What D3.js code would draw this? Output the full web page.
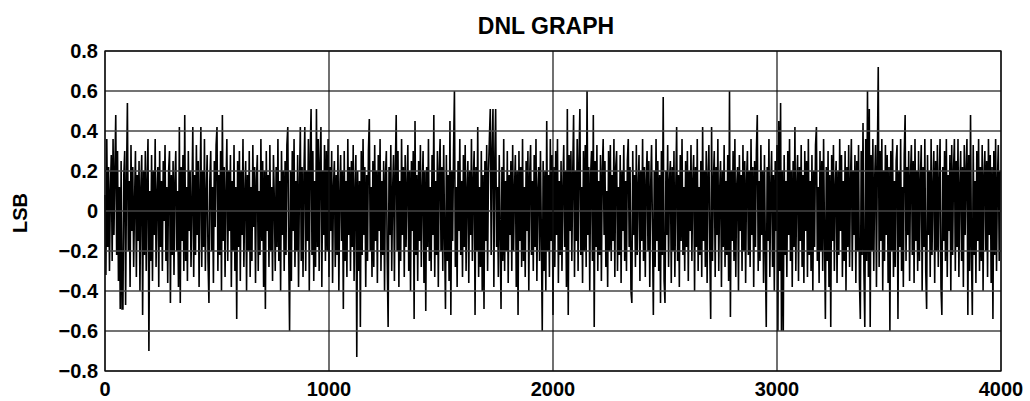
<!DOCTYPE html>
<html>
<head>
<meta charset="utf-8">
<script src="https://cdn.jsdelivr.net/npm/d3@7"></script>
<style>
  body { margin: 0; background: #fff; }
  text { font-family: "Liberation Sans", Arial, sans-serif; font-weight: bold; fill: #000; }
</style>
</head>
<body>
<div id="chart"></div>
<script>
// Chart text and ticks
const title = "DNL GRAPH";
const yLabel = "LSB";
const xTicks = [0, 1000, 2000, 3000, 4000];
const yTicks = [-0.8, -0.6, -0.4, -0.2, 0, 0.2, 0.4, 0.6, 0.8];

// DNL, one value every 4 codes starting at code 0
const codeStep = 4;
const dnl = [
  0.08,-0.32,0.36,-0.18,0.22,-0.3,0.1,0.28,-0.25,0.36,-0.12,0.2,0.48,-0.22,0.3,-0.35,0.12,-0.49,0.25,-0.49,-0.49,0.18,0.3,-0.47,0.15,
  0.54,-0.2,0.15,-0.38,0.33,-0.1,0.22,-0.28,0.05,0.3,-0.33,0.18,-0.15,0.25,-0.4,0.12,0.28,-0.52,0.2,-0.22,0.3,-0.3,0.15,0.36,-0.7,
  0.1,-0.25,0.28,-0.35,0.2,-0.12,0.36,-0.28,0.08,0.22,-0.38,0.3,-0.18,0.15,-0.3,0.25,-0.05,0.33,-0.25,0.12,-0.36,0.2,0.3,-0.46,0.18,
  -0.22,0.25,-0.32,0.15,0.3,-0.2,0.1,-0.38,0.42,-0.46,0.22,-0.15,0.28,-0.3,0.48,-0.25,0.12,-0.35,0.3,-0.1,0.2,-0.28,0.05,0.42,-0.33,
  0.18,-0.22,0.33,-0.12,0.25,-0.38,0.1,0.42,-0.28,0.2,-0.18,0.36,-0.3,0.08,0.28,-0.25,-0.46,0.15,0.3,-0.2,0.12,-0.36,0.25,-0.08,0.33,
  0.42,-0.3,0.18,-0.22,0.3,-0.4,0.48,-0.15,0.22,-0.33,0.1,0.36,-0.25,0.2,-0.1,0.28,-0.38,0.15,-0.2,0.33,-0.3,0.12,-0.54,0.25,-0.18,
  0.3,-0.35,0.2,-0.12,0.36,-0.28,0.08,0.25,-0.4,0.18,-0.2,0.3,-0.33,0.12,-0.25,0.33,-0.08,0.22,-0.36,0.15,0.28,-0.3,0.1,-0.22,0.36,
  -0.15,0.25,-0.38,0.2,-0.49,0.3,-0.1,0.18,-0.28,0.33,-0.2,0.12,-0.35,0.28,0.05,-0.3,0.22,-0.18,0.36,-0.25,0.15,-0.4,0.3,-0.12,0.2,
  -0.3,0.25,-0.22,0.33,0.42,-0.18,-0.6,0.2,-0.35,0.3,-0.1,0.36,-0.28,0.15,-0.2,0.28,-0.38,0.12,0.42,-0.25,0.22,-0.33,0.18,0.42,-0.3,
  0.2,-0.15,0.36,-0.4,0.28,0.51,-0.22,0.3,-0.35,0.15,-0.28,0.51,-0.18,0.36,-0.3,0.25,0.42,-0.38,0.2,-0.12,0.33,-0.25,0.3,-0.2,0.36,
  -0.33,0.22,-0.1,0.3,-0.36,0.12,0.25,-0.28,0.18,-0.22,0.33,-0.4,0.08,0.28,-0.15,0.2,-0.49,0.3,-0.25,0.15,-0.33,0.36,-0.12,0.22,-0.3,
  0.25,-0.18,0.33,-0.35,0.1,0.28,-0.73,0.2,-0.3,0.15,-0.58,0.3,-0.22,0.36,-0.12,0.22,-0.38,0.18,-0.25,0.3,0.46,-0.2,0.12,-0.33,0.25,
  -0.28,0.33,-0.15,0.2,-0.36,0.28,-0.1,0.36,-0.3,0.15,-0.22,0.25,-0.4,0.18,0.3,-0.25,-0.58,0.22,-0.12,0.33,-0.3,0.1,0.28,-0.35,0.2,
  0.48,-0.2,0.3,-0.38,0.15,-0.25,0.36,-0.12,0.22,-0.33,0.28,-0.18,0.12,0.33,-0.3,0.2,-0.4,0.25,-0.1,0.3,-0.54,0.45,-0.22,0.18,-0.35,
  0.25,-0.15,0.33,-0.28,0.1,0.3,-0.36,0.2,-0.5,0.22,-0.18,0.36,-0.25,0.12,-0.3,0.28,-0.12,0.48,-0.33,0.15,-0.22,0.3,-0.38,0.2,0.36,
  -0.2,0.22,-0.3,0.33,-0.12,-0.49,0.28,-0.25,0.18,-0.35,0.45,-0.52,0.2,-0.15,0.3,0.6,-0.28,0.12,-0.38,0.25,-0.1,0.36,-0.22,0.15,-0.33,
  0.28,-0.18,0.33,-0.3,0.1,0.25,-0.36,0.2,-0.12,0.36,-0.25,0.15,0.3,-0.52,0.22,-0.2,0.42,-0.33,0.12,-0.28,0.3,-0.4,0.18,-0.49,0.25,
  -0.15,0.33,-0.3,0.2,0.36,0.51,-0.22,0.3,0.51,-0.38,0.25,0.51,-0.18,0.12,-0.33,0.28,-0.1,-0.49,0.22,-0.25,0.36,-0.3,0.15,-0.2,0.3,
  -0.36,0.18,-0.12,0.25,-0.3,0.33,-0.2,0.1,0.28,-0.38,0.2,-0.52,0.3,-0.15,0.22,-0.28,0.36,-0.25,0.12,-0.33,0.25,-0.1,0.3,-0.4,0.18,
  0.33,-0.22,0.15,-0.3,0.28,-0.18,0.36,-0.35,0.1,0.22,-0.25,0.3,-0.12,-0.6,0.25,-0.3,0.2,-0.4,0.45,-0.2,0.18,-0.33,0.36,-0.15,0.28,
  -0.52,0.22,-0.28,0.3,-0.12,0.36,-0.36,0.15,-0.22,0.25,-0.3,0.12,0.33,-0.18,0.2,-0.38,0.51,-0.52,0.28,-0.1,0.3,-0.25,0.18,0.48,-0.33,
  0.2,-0.15,0.36,-0.3,0.25,0.51,-0.22,0.12,-0.36,0.3,-0.2,0.33,-0.28,0.6,-0.12,0.22,-0.4,0.18,0.3,-0.25,0.48,-0.58,0.25,-0.18,0.33,
  -0.3,0.15,-0.22,0.28,-0.35,0.2,0.36,-0.12,0.25,-0.28,0.1,-0.38,0.3,-0.2,0.33,-0.25,0.18,-0.15,0.36,-0.33,0.22,0.3,-0.3,0.12,-0.22,
  0.28,-0.36,0.2,-0.1,0.33,-0.25,0.15,-0.3,0.25,0.36,-0.18,0.22,-0.4,-0.46,0.3,-0.12,0.18,-0.28,0.33,-0.22,0.12,0.28,-0.35,0.2,-0.15,
  0.36,-0.25,0.22,-0.33,0.15,0.3,-0.2,0.25,-0.38,0.12,0.33,-0.1,-0.52,0.2,-0.28,0.36,-0.15,0.25,-0.3,0.18,-0.46,0.3,-0.22,0.57,-0.35,
  -0.46,0.2,-0.12,0.33,-0.28,0.15,0.25,-0.36,0.22,-0.2,0.3,-0.33,0.1,0.42,-0.25,0.18,-0.38,0.28,-0.15,0.36,-0.22,0.12,-0.3,0.25,-0.18,
  0.3,-0.35,0.2,-0.1,0.33,-0.25,0.15,0.28,-0.4,0.22,-0.18,0.36,-0.3,0.12,-0.22,0.25,-0.33,0.42,-0.15,0.2,-0.28,0.3,-0.36,0.18,0.33,
  -0.2,-0.54,0.42,-0.25,0.15,0.3,-0.33,0.22,-0.12,0.36,-0.3,0.1,0.25,-0.38,0.2,-0.18,0.33,-0.28,0.15,-0.22,0.28,-0.35,0.6,-0.53,0.2,
  -0.15,0.3,-0.25,0.36,-0.33,0.12,0.22,-0.4,0.28,-0.1,0.18,-0.3,0.33,-0.2,0.25,-0.36,0.15,0.3,-0.22,0.2,-0.28,0.36,-0.12,0.22,-0.38,
  0.25,-0.18,0.3,0.48,-0.3,0.15,-0.25,0.33,-0.12,0.2,-0.36,0.28,-0.2,-0.58,0.22,-0.15,0.36,-0.33,0.12,0.3,-0.28,0.18,-0.4,0.25,-0.1,
  0.33,-0.6,0.45,-0.3,0.54,-0.6,0.2,-0.6,0.28,-0.22,0.15,-0.33,0.3,-0.12,0.36,-0.25,0.2,-0.38,0.25,-0.18,0.42,-0.3,0.12,0.28,-0.35,
  0.22,-0.15,0.33,-0.28,0.18,-0.36,0.3,-0.1,0.25,-0.33,0.36,-0.22,0.15,-0.3,0.28,-0.4,0.2,-0.18,0.33,0.42,-0.25,0.12,-0.36,0.3,-0.2,
  0.25,-0.3,0.36,-0.12,-0.54,0.22,-0.25,0.3,-0.38,0.18,-0.58,0.28,-0.15,0.33,-0.3,0.12,0.25,-0.36,0.2,-0.22,0.36,-0.1,0.28,-0.33,0.15,
  -0.25,0.3,-0.4,0.22,-0.18,0.33,-0.28,0.15,0.36,-0.3,0.2,-0.12,0.28,-0.36,0.25,-0.2,0.33,-0.35,-0.54,0.3,-0.22,0.44,-0.3,-0.58,0.36,
  -0.25,0.6,-0.33,0.51,-0.58,0.28,-0.2,0.36,-0.3,0.15,0.33,-0.38,0.25,0.72,-0.28,0.3,-0.15,0.36,-0.4,0.2,-0.25,0.33,-0.12,0.28,-0.36,
  0.22,-0.6,0.3,-0.2,0.36,-0.33,0.15,-0.28,0.25,0.33,-0.54,0.2,-0.18,0.36,-0.3,0.12,-0.38,0.28,0.48,-0.25,0.22,-0.12,0.3,-0.35,0.18,
  0.33,-0.22,0.25,-0.36,0.36,-0.15,0.2,-0.3,0.3,-0.25,0.15,0.33,-0.4,0.22,-0.18,0.36,-0.3,-0.49,0.28,-0.12,0.2,-0.33,0.36,-0.22,0.12,
  0.3,-0.36,0.25,-0.2,0.33,-0.28,0.15,0.36,-0.38,-0.52,0.22,-0.15,0.3,-0.25,0.36,-0.33,0.18,-0.1,0.28,-0.4,0.33,-0.22,0.2,0.36,-0.3,
  0.25,-0.18,0.36,-0.33,0.12,0.3,-0.25,0.22,-0.38,0.33,-0.12,0.2,0.36,-0.52,0.28,-0.3,0.48,-0.2,-0.52,0.33,-0.22,0.15,-0.36,0.3,-0.15,
  0.36,-0.3,0.22,-0.25,0.33,-0.4,0.18,0.3,-0.2,0.25,-0.33,0.36,-0.12,0.28,-0.36,0.22,-0.54,0.3,-0.22,0.36,-0.3,0.15,0.33,-0.25,0.2
];

// Layout of the picture
const width = 1030;
const height = 401;
const margin = { top: 51, right: 29, bottom: 30, left: 105 };
const plotW = width - margin.left - margin.right;
const plotH = height - margin.top - margin.bottom;

const x = d3.scaleLinear().domain([0, 4000]).range([0, plotW]);
const y = d3.scaleLinear().domain([-0.8, 0.8]).range([plotH, 0]);

const svg = d3.select("#chart")
  .append("svg")
  .attr("width", width)
  .attr("height", height);

const g = svg.append("g")
  .attr("transform", `translate(${margin.left}, ${margin.top})`);

// The DNL trace
const line = d3.line()
  .x((d, i) => x(i * codeStep))
  .y(d => y(d));

g.append("path")
  .datum(dnl)
  .attr("d", line)
  .attr("fill", "none")
  .attr("stroke", "#000")
  .attr("stroke-width", 1.6);

// Grid lines sit on top of the trace
g.selectAll(".hgrid")
  .data(yTicks)
  .enter()
  .append("line")
  .attr("x1", 0)
  .attr("x2", plotW)
  .attr("y1", d => y(d))
  .attr("y2", d => y(d))
  .attr("stroke", "#444")
  .attr("stroke-width", 1.3);

g.selectAll(".vgrid")
  .data(xTicks)
  .enter()
  .append("line")
  .attr("x1", d => x(d))
  .attr("x2", d => x(d))
  .attr("y1", 0)
  .attr("y2", plotH)
  .attr("stroke", "#111")
  .attr("stroke-width", 1.2);

// Frame
g.append("rect")
  .attr("width", plotW)
  .attr("height", plotH)
  .attr("fill", "none")
  .attr("stroke", "#111")
  .attr("stroke-width", 1.3);

// Tick labels
const yFmt = d => d === 0 ? "0" : d3.format(".1f")(d);

g.selectAll(".ylab")
  .data(yTicks)
  .enter()
  .append("text")
  .attr("x", -7)
  .attr("y", d => y(d) + 6.5)
  .attr("text-anchor", "end")
  .style("font-size", "20px")
  .text(yFmt);

g.selectAll(".xlab")
  .data(xTicks)
  .enter()
  .append("text")
  .attr("x", d => x(d))
  .attr("y", plotH + 25)
  .attr("text-anchor", "middle")
  .style("font-size", "20px")
  .text(d => d);

// Title and axis name
svg.append("text")
  .attr("x", 546)
  .attr("y", 34)
  .attr("text-anchor", "middle")
  .style("font-size", "23px")
  .text(title);

svg.append("text")
  .attr("transform", "translate(27, 213) rotate(-90)")
  .attr("text-anchor", "middle")
  .style("font-size", "20px")
  .text(yLabel);
</script>
</body>
</html>
